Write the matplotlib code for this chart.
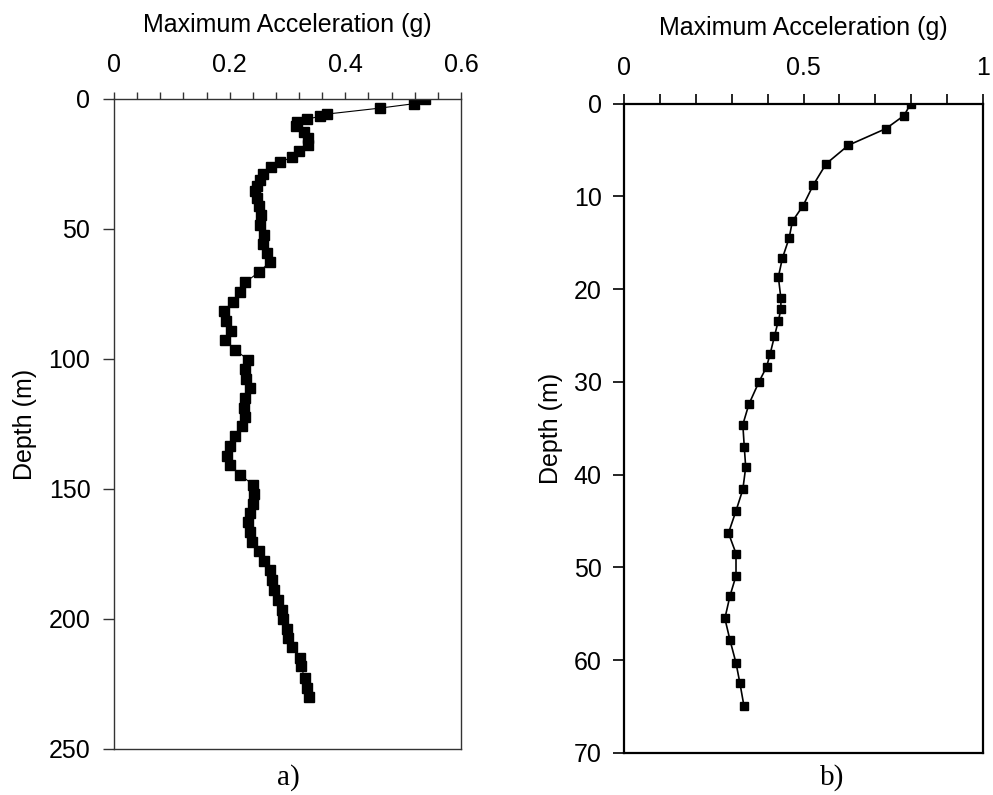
import numpy as np
import matplotlib
matplotlib.use("Agg")
import matplotlib.pyplot as plt
from matplotlib.ticker import MultipleLocator

plt.rcParams['font.family'] = ['Liberation Sans', 'DejaVu Sans']

# ---- data: a) deep profile ----
depth_a = [0, 1.8, 3.5, 5.8, 6.7, 7.7, 9, 10.5, 12.5, 15, 17.6, 20.1, 22.4, 24.4,
           26.2, 28.7, 31, 33.6, 35.5, 38.1, 41, 44.5, 48.3, 52.2, 55.7, 59.2, 62.8,
           66.7, 70.5, 74.4, 78.1, 81.7, 85.5, 89.1, 92.7, 96.4, 100.3, 103.9, 107.6,
           111.2, 115, 118.8, 122.3, 125.9, 129.8, 133.6, 137.2, 140.7, 144.5, 148.3,
           152, 155.8, 159.2, 162.8, 166.7, 170.2, 174, 177.8, 181.3, 184.9, 188.7,
           192.6, 196.4, 200, 203.8, 207.3, 210.8, 215, 218.2, 222.7, 226.5, 230]
acc_a = [0.537, 0.519, 0.460, 0.368, 0.356, 0.334, 0.316, 0.315, 0.329, 0.336, 0.335,
         0.320, 0.307, 0.287, 0.271, 0.258, 0.252, 0.247, 0.244, 0.248, 0.251, 0.254,
         0.252, 0.260, 0.257, 0.264, 0.269, 0.250, 0.227, 0.218, 0.206, 0.190, 0.193,
         0.202, 0.192, 0.209, 0.232, 0.227, 0.229, 0.235, 0.227, 0.225, 0.227, 0.221,
         0.209, 0.200, 0.196, 0.200, 0.218, 0.240, 0.242, 0.240, 0.235, 0.232, 0.236,
         0.238, 0.251, 0.259, 0.269, 0.274, 0.276, 0.284, 0.290, 0.293, 0.299, 0.300,
         0.307, 0.322, 0.323, 0.330, 0.333, 0.337]

# ---- data: b) shallow profile ----
depth_b = [0, 1.3, 2.7, 4.5, 6.5, 8.8, 11.0, 12.7, 14.5, 16.7, 18.7, 21.0, 22.2, 23.4,
           25.1, 27.0, 28.4, 30.0, 32.4, 34.6, 37.0, 39.2, 41.6, 43.9, 46.3, 48.5,
           50.9, 53.1, 55.5, 57.8, 60.3, 62.5, 64.9]
acc_b = [0.799, 0.780, 0.730, 0.625, 0.563, 0.527, 0.499, 0.469, 0.460, 0.441, 0.430,
         0.437, 0.437, 0.430, 0.419, 0.407, 0.397, 0.376, 0.348, 0.331, 0.335, 0.339,
         0.331, 0.312, 0.291, 0.312, 0.312, 0.295, 0.281, 0.295, 0.312, 0.323, 0.334]

W, H = 993, 795
fig = plt.figure(figsize=(W / 100, H / 100), dpi=100)
FS = 18
serif = ['Liberation Serif', 'DejaVu Serif']


def box(x0, y0, x1, y1):
    # pixel box (top-left origin) -> figure fraction
    return [x0 / W, 1 - y1 / H, (x1 - x0) / W, (y1 - y0) / H]


#---------------- a) ----------------
ax1 = fig.add_axes(box(114, 99, 461, 749))
ax1.plot(acc_a, depth_a, color='black', lw=0.8, marker='s', ms=7.5,
         mfc='black', mec='black')
ax1.set_xlim(0, 0.6)
ax1.set_ylim(250, 0)
ax1.xaxis.set_major_locator(MultipleLocator(0.2))
ax1.xaxis.set_minor_locator(MultipleLocator(0.04))
ax1.yaxis.set_major_locator(MultipleLocator(50))
ax1.xaxis.set_major_formatter(plt.FuncFormatter(lambda v, p: f'{v:g}'))
for sp in ax1.spines.values():
    sp.set_linewidth(1.0)
    sp.set_color('#333333')
ax1.xaxis.tick_top()
ax1.xaxis.set_label_position('top')
ax1.tick_params(axis='x', which='both', direction='out', length=5, width=1,
                color='#333333', labelsize=FS, pad=11)
ax1.tick_params(axis='y', direction='out', length=8, width=1, color='#333333',
                labelsize=FS, pad=9)
ax1.set_xlabel('Maximum Acceleration (g)', fontsize=FS, labelpad=15)
ax1.set_ylabel('Depth (m)', fontsize=FS, labelpad=8)
fig.text(288 / W, 1 - 778 / H, 'a)', ha='center', va='center',
         fontsize=21, family=serif)

#---------------- b) ----------------
ax2 = fig.add_axes(box(624, 103.5, 983, 753))
ax2.plot(acc_b, depth_b, color='black', lw=1.2, marker='s', ms=6,
         mfc='black', mec='black')
ax2.set_xlim(0, 1)
ax2.set_ylim(70, 0)
ax2.xaxis.set_major_locator(MultipleLocator(0.5))
ax2.xaxis.set_minor_locator(MultipleLocator(0.1))
ax2.yaxis.set_major_locator(MultipleLocator(10))
ax2.xaxis.set_major_formatter(plt.FuncFormatter(lambda v, p: f'{v:g}'))
for sp in ax2.spines.values():
    sp.set_linewidth(1.6)
    sp.set_color('black')
ax2.xaxis.tick_top()
ax2.xaxis.set_label_position('top')
ax2.tick_params(axis='x', which='both', direction='out', length=7, width=1.2,
                labelsize=FS, pad=10)
ax2.tick_params(axis='y', direction='out', length=8, width=1.2, labelsize=FS, pad=8)
ax2.set_xlabel('Maximum Acceleration (g)', fontsize=FS, labelpad=15)
ax2.set_ylabel('Depth (m)', fontsize=FS, labelpad=8)
fig.text(832 / W, 1 - 778 / H, 'b)', ha='center', va='center',
         fontsize=21, family=serif)

fig.savefig('out.png', dpi=100)
